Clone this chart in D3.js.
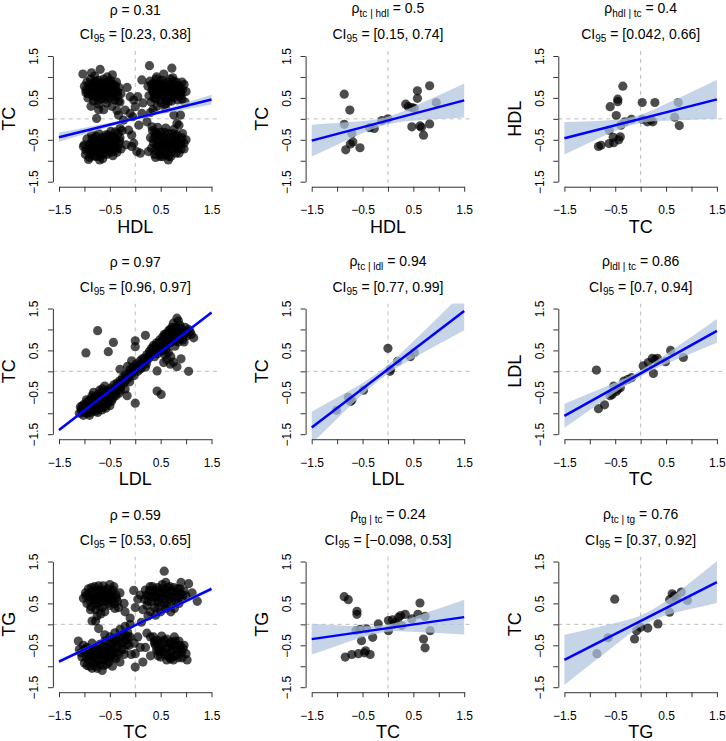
<!DOCTYPE html>
<html><head><meta charset="utf-8">
<script src="https://cdn.jsdelivr.net/npm/d3@7"></script>
<style>
body{margin:0;background:#fff}
svg{display:block}
text{font-family:"Liberation Sans",Arial,Helvetica,sans-serif}
</style>
</head><body>
<svg id="chart" width="726" height="741"></svg>
<script>
// ---------------- DATA ----------------
const tickValues = [-1.5, -1, -0.5, 0, 0.5, 1, 1.5];
const tickLabels = {"-1.5": "\u22121.5", "-0.5": "\u22120.5", "0.5": "0.5", "1.5": "1.5"};
const bandX = [-1.5, -1, -0.5, 0, 0.5, 1, 1.5];

const xLabels = ["HDL", "HDL", "TC", "LDL", "LDL", "TC", "TC", "TC", "TG"];
const yLabels = ["TC", "TC", "HDL", "TC", "TC", "LDL", "TG", "TG", "TC"];
const rhoSubs = ["", "tc | hdl", "hdl | tc", "", "tc | ldl", "ldl | tc", "", "tg | tc", "tc | tg"];
const rhoValues = ["0.31", "0.5", "0.4", "0.97", "0.94", "0.86", "0.59", "0.24", "0.76"];
const ciValues = ["[0.23, 0.38]", "[0.15, 0.74]", "[0.042, 0.66]",
                  "[0.96, 0.97]", "[0.77, 0.99]", "[0.7, 0.94]",
                  "[0.53, 0.65]", "[\u22120.098, 0.53]", "[0.37, 0.92]"];

const intercepts = [0.01, -0.04, 0.0, 0.0, 0.05, -0.047, -0.02, -0.09, 0.08];
const slopes     = [0.30, 0.32, 0.31, 0.935, 0.928, 0.676, 0.578, 0.175, 0.618];

const bandLo = [
  [-0.555, -0.37, -0.188, -0.02, 0.112, 0.23, 0.345],
  [-0.90, -0.618, -0.346, -0.131, -0.046, -0.002, 0.035],
  [-0.852, -0.564, -0.288, -0.099, -0.048, -0.023, -0.004],
  [-1.443, -0.964, -0.487, -0.015, 0.449, 0.906, 1.363],
  [-1.722, -1.129, -0.552, -0.058, 0.311, 0.65, 0.983],
  [-1.346, -0.921, -0.503, -0.122, 0.173, 0.431, 0.682],
  [-0.937, -0.6345, -0.334, -0.04, 0.244, 0.5215, 0.797],
  [-0.7185, -0.508, -0.3075, -0.174, -0.1755, -0.207, -0.2435],
  [-1.447, -0.965, -0.49, -0.051, 0.216, 0.372, 0.511]
];
const bandHi = [
  [-0.325, -0.21, -0.092, 0.04, 0.208, 0.39, 0.575],
  [-0.14, -0.102, -0.054, 0.051, 0.286, 0.562, 0.845],
  [-0.078, -0.056, -0.022, 0.099, 0.358, 0.643, 0.934],
  [-1.363, -0.906, -0.449, 0.015, 0.487, 0.964, 1.443],
  [-0.962, -0.627, -0.276, 0.158, 0.717, 1.306, 1.901],
  [-0.776, -0.525, -0.267, 0.028, 0.409, 0.827, 1.252],
  [-0.837, -0.5615, -0.284, 0.0, 0.294, 0.5945, 0.897],
  [0.0135, -0.022, -0.0475, -0.006, 0.1705, 0.377, 0.5885],
  [-0.247, -0.111, 0.032, 0.211, 0.562, 1.024, 1.503]
];

// Panel 1: TC vs HDL (marginal)
const hdlTcPoints = [
  [-1.0,0.78],[-0.97,0.62],[-0.95,0.88],[-0.93,0.5],[-0.9,0.72],[-0.88,0.95],[-0.86,0.58],[-0.84,0.82],[-0.82,0.42],[-0.8,0.68],
  [-0.78,0.9],[-0.76,0.52],[-0.74,0.75],[-0.72,0.35],[-0.7,0.62],[-0.68,0.85],[-0.66,0.48],[-0.64,0.7],[-0.62,0.95],[-0.6,0.55],
  [-0.58,0.78],[-0.56,0.38],[-0.54,0.65],[-0.52,0.88],[-0.5,0.5],[-0.48,0.72],[-0.46,0.3],[-0.44,0.6],[-0.42,0.82],[-0.4,0.45],
  [-0.38,0.68],[-0.36,0.2],[-0.34,0.55],[-0.32,0.75],[-0.3,0.4],[-0.87,0.3],[-0.62,0.22],[-0.28,0.6],[-0.8,1.02],[-0.55,1.0],
  [-0.91,0.81],[-0.87,0.66],[-0.83,0.52],[-0.79,0.78],[-0.75,0.63],[-0.71,0.92],[-0.67,0.74],[-0.63,0.58],[-0.59,0.86],[-0.55,0.71],
  [-0.51,0.6],[-0.47,0.84],[-0.43,0.52],[-0.39,0.78],[-0.35,0.64],[-0.93,0.6],[-0.81,0.87],[-0.73,0.44],[-0.65,0.82],[-0.57,0.47],
  [-0.49,0.92],[-0.41,0.62],[-0.69,0.56],[-0.61,0.67],[-0.53,0.77],[-0.77,0.68],[-0.85,0.74],[-0.45,0.7],[-0.37,0.88],[-0.33,0.42],
  [-1.03,1.07],[-0.69,1.18],[-0.86,1.1],[-0.97,0.69],[-0.76,0.01],[-0.72,0.22],[-0.33,0.09],[-0.45,1.05],
  [0.25,0.78],[0.27,0.55],[0.29,0.9],[0.31,0.4],[0.33,0.68],[0.35,0.85],[0.37,0.5],[0.39,0.75],[0.41,0.95],[0.43,0.3],
  [0.45,0.6],[0.47,0.82],[0.49,0.45],[0.51,0.7],[0.53,0.92],[0.55,0.55],[0.57,0.78],[0.59,0.35],[0.61,0.65],[0.63,0.88],
  [0.65,0.5],[0.67,0.72],[0.69,0.95],[0.71,0.42],[0.73,0.62],[0.75,0.82],[0.77,0.52],[0.79,0.7],[0.81,0.88],[0.83,0.45],
  [0.85,0.62],[0.87,0.78],[0.9,0.55],[0.93,0.7],[0.96,0.82],[1.0,0.65],[0.35,0.22],[0.6,0.25],[0.42,1.0],
  [0.32,0.82],[0.36,0.63],[0.4,0.48],[0.44,0.74],[0.48,0.9],[0.52,0.58],[0.56,0.84],[0.6,0.45],[0.64,0.68],[0.68,0.82],
  [0.72,0.56],[0.76,0.9],[0.8,0.6],[0.84,0.78],[0.88,0.68],[0.92,0.88],[0.46,0.66],[0.54,0.72],[0.62,0.78],[0.7,0.66],
  [0.78,0.76],[0.86,0.55],[0.38,0.58],[0.5,0.38],[0.66,0.42],[0.74,0.98],[0.58,0.62],[0.42,0.85],[0.9,0.62],[0.34,0.72],
  [0.28,1.27],[0.72,1.21],[0.56,1.07],[0.13,0.93],[0.92,0.47],[0.89,0.09],[0.76,0.09],[0.3,0.15],[0.98,0.4],
  [-0.16,0.75],[-0.1,0.53],[-0.03,0.45],[0.05,0.53],[0.0,0.29],[-0.2,0.21],[-0.1,0.13],[0.13,0.13],[-0.23,-0.03],[0.07,-0.15],
  [0.23,-0.07],[-0.13,-0.27],[-0.07,-0.39],[0.33,-0.19],[0.39,-0.31],[-0.03,-0.58],[0.03,-0.78],[0.1,-0.82],[0.26,-0.78],[-0.07,-0.66],
  [-0.18,-0.62],[0.15,0.38],[-0.05,0.05],
  [-1.0,-0.62],[-0.98,-0.85],[-0.95,-0.48],[-0.93,-0.72],[-0.9,-0.92],[-0.88,-0.58],[-0.86,-0.38],[-0.84,-0.8],[-0.82,-0.65],[-0.8,-0.48],
  [-0.78,-0.9],[-0.76,-0.7],[-0.74,-0.55],[-0.72,-0.35],[-0.7,-0.82],[-0.68,-0.62],[-0.66,-0.45],[-0.64,-0.95],[-0.62,-0.72],[-0.6,-0.55],
  [-0.58,-0.38],[-0.56,-0.85],[-0.54,-0.65],[-0.52,-0.48],[-0.5,-0.75],[-0.48,-0.3],[-0.46,-0.58],[-0.44,-0.88],[-0.42,-0.42],[-0.4,-0.68],
  [-0.38,-0.52],[-0.36,-0.8],[-0.34,-0.35],[-0.32,-0.6],[-0.3,-0.45],[-0.28,-0.72],[-0.26,-0.28],[-0.92,-0.97],[-1.02,-0.66],[-0.39,-0.31],
  [-0.3,-0.23],[-0.7,-0.98],
  [-0.97,-0.75],[-0.91,-0.63],[-0.87,-0.86],[-0.83,-0.55],[-0.79,-0.76],[-0.75,-0.62],[-0.71,-0.9],[-0.67,-0.72],[-0.63,-0.58],[-0.59,-0.82],
  [-0.55,-0.68],[-0.51,-0.56],[-0.47,-0.8],[-0.43,-0.62],[-0.39,-0.48],[-0.35,-0.7],[-0.31,-0.52],[-0.89,-0.72],[-0.81,-0.88],[-0.73,-0.78],
  [-0.65,-0.85],[-0.57,-0.72],[-0.49,-0.65],[-0.41,-0.76],[-0.85,-0.47],[-0.77,-0.42],[-0.69,-0.52],[-0.61,-0.45],[-0.53,-0.38],[-0.45,-0.42],
  [0.3,-0.45],[0.32,-0.7],[0.34,-0.28],[0.36,-0.58],[0.38,-0.85],[0.4,-0.4],[0.42,-0.65],[0.44,-0.2],[0.46,-0.5],[0.48,-0.78],
  [0.5,-0.32],[0.52,-0.6],[0.54,-0.9],[0.56,-0.42],[0.58,-0.7],[0.6,-0.22],[0.62,-0.52],[0.64,-0.8],[0.66,-0.35],[0.68,-0.62],
  [0.7,-0.9],[0.72,-0.45],[0.74,-0.7],[0.76,-0.25],[0.78,-0.55],[0.8,-0.82],[0.82,-0.38],[0.84,-0.62],[0.86,-0.15],[0.88,-0.48],
  [0.9,-0.72],[0.93,-0.35],[0.96,-0.58],[1.0,-0.5],[0.49,-0.9],[0.82,-0.11],[0.4,-0.92],[0.65,-0.98],
  [0.36,-0.48],[0.4,-0.75],[0.44,-0.58],[0.48,-0.4],[0.52,-0.7],[0.56,-0.55],[0.6,-0.85],[0.64,-0.62],[0.68,-0.45],[0.72,-0.78],
  [0.76,-0.6],[0.8,-0.42],[0.84,-0.72],[0.88,-0.58],[0.92,-0.45],[0.46,-0.65],[0.54,-0.48],[0.62,-0.72],[0.7,-0.55],[0.78,-0.68],
  [0.86,-0.82],[0.42,-0.35],[0.58,-0.32],[0.74,-0.35],[0.9,-0.6],[0.66,-0.9],[0.5,-0.85],[0.82,-0.52],[0.96,-0.72],[0.6,-0.6]
];
// Panel 2: TC vs HDL | partial
const hdlTcPartial = [
  [-0.86,0.59],[-0.75,0.21],[-0.86,-0.13],[-0.71,-0.35],[-0.69,-0.55],[-0.74,-0.6],[-0.83,-0.74],[-0.55,-0.69],[-0.36,-0.21],[-0.27,-0.23],
  [-0.12,-0.04],[0.0,0.0],[0.35,0.35],[0.4,0.29],[0.47,0.27],[0.52,0.25],[0.58,0.67],[0.58,0.49],[0.82,0.79],[0.95,0.39],
  [0.47,-0.19],[0.63,-0.17],[0.66,-0.2],[0.82,-0.12],[0.7,-0.39]
];
// Panel 3: HDL vs TC | partial
const tcHdlPartial = [
  [-0.35,0.78],[-0.45,0.47],[-0.45,0.41],[-0.6,0.29],[-0.48,0.08],[-0.31,-0.07],[-0.18,-0.01],[-0.39,-0.15],[-0.62,-0.27],[-0.54,-0.44],
  [-0.4,-0.43],[-0.43,-0.5],[-0.53,-0.57],[-0.62,-0.59],[-0.78,-0.63],[-0.83,-0.66],[0.03,0.39],[0.28,0.39],[0.03,-0.01],[0.13,-0.07],
  [0.24,-0.07],[0.67,0.04],[0.74,0.39],[0.76,-0.16],[0.2,-0.03]
];
// Panel 4: TC vs LDL (marginal)
const ldlTcPoints = [
  [-1.1,-1.0],[-1.08,-0.85],[-1.05,-0.95],[-1.02,-1.05],[-1.0,-0.78],[-0.98,-0.9],[-0.95,-1.0],[-0.93,-0.72],[-0.9,-0.85],[-0.88,-0.98],
  [-0.86,-0.65],[-0.84,-0.78],[-0.82,-0.92],[-0.8,-0.6],[-0.78,-0.72],[-0.76,-0.85],[-0.74,-0.98],[-0.72,-0.55],[-0.7,-0.68],[-0.68,-0.8],
  [-0.66,-0.92],[-0.64,-0.5],[-0.62,-0.62],[-0.6,-0.75],[-0.58,-0.88],[-0.56,-0.45],[-0.54,-0.58],[-0.52,-0.7],[-0.5,-0.82],[-0.48,-0.4],
  [-0.46,-0.52],[-0.44,-0.65],[-0.42,-0.32],[-0.4,-0.45],[-0.38,-0.58],[-0.36,-0.28],[-0.34,-0.4],[-0.32,-0.52],[-0.3,-0.22],[-0.28,-0.35],
  [-0.9,-1.05],[-0.7,-0.45],[-0.6,-0.35],[-0.82,-0.5],[-0.16,-0.58],
  [-1.06,-0.9],[-1.0,-0.98],[-0.96,-0.82],[-0.92,-0.94],[-0.9,-0.7],[-0.86,-0.88],[-0.83,-0.7],[-0.8,-0.82],[-0.77,-0.62],[-0.75,-0.78],
  [-0.72,-0.9],[-0.69,-0.6],[-0.67,-0.74],[-0.63,-0.86],[-0.61,-0.55],[-0.59,-0.66],[-0.55,-0.78],[-0.53,-0.5],[-0.5,-0.62],[-0.47,-0.72],
  [-0.45,-0.45],[-0.41,-0.55],[-0.37,-0.46],[-0.33,-0.3],[-0.29,-0.45],[-0.96,-0.68],[-0.85,-0.58],[-1.04,-0.82],[-0.78,-0.95],[-0.65,-0.42],
  [-0.25,-0.15],[-0.22,-0.28],[-0.2,-0.08],[-0.17,-0.2],[-0.14,-0.05],[-0.12,-0.15],[-0.1,0.05],[-0.07,-0.05],[-0.07,0.25],[-0.04,0.1],
  [-0.02,-0.1],[0.0,0.05],[0.02,0.18],[0.05,0.0],[0.07,0.12],[0.1,0.25],[0.12,0.08],[0.15,0.2],[0.18,0.32],[-0.15,0.12],
  [-0.3,0.05],[0.0,-0.76],[-0.2,-0.42],[0.2,0.1],
  [-0.26,-0.25],[-0.18,-0.12],[-0.11,-0.25],[-0.05,0.0],[0.04,0.12],[0.09,0.05],[0.14,0.3],[0.22,0.18],
  [-0.97,0.44],[-0.74,0.97],[-0.53,0.47],[-0.43,0.69],[0.0,0.73],[0.0,0.59],[0.2,0.86],[0.43,-0.47],[0.51,-0.55],[0.43,0.01],
  [0.2,0.25],[0.23,0.4],[0.26,0.3],[0.28,0.48],[0.3,0.38],[0.32,0.55],[0.34,0.45],[0.36,0.62],[0.38,0.35],[0.4,0.52],
  [0.42,0.68],[0.44,0.42],[0.46,0.58],[0.48,0.75],[0.5,0.48],[0.52,0.65],[0.54,0.82],[0.56,0.55],[0.58,0.72],[0.6,0.9],
  [0.62,0.62],[0.64,0.8],[0.66,0.98],[0.68,0.68],[0.7,0.88],[0.72,1.05],[0.74,0.75],[0.76,0.95],[0.78,0.6],[0.8,0.82],
  [0.82,1.02],[0.84,0.7],[0.86,0.9],[0.88,1.1],[0.9,0.78],[0.92,0.98],[0.95,0.85],[0.98,1.05],[1.0,0.92],[1.05,1.0],
  [1.1,0.88],[1.15,0.8],[0.85,1.2],[0.75,1.15],[0.65,0.45],[0.7,0.35],[0.58,0.4],
  [0.24,0.32],[0.3,0.45],[0.35,0.52],[0.39,0.6],[0.43,0.55],[0.47,0.68],[0.51,0.58],[0.55,0.75],[0.59,0.65],[0.63,0.88],
  [0.67,0.78],[0.71,0.7],[0.73,0.95],[0.77,0.85],[0.81,0.75],[0.83,0.92],[0.87,0.82],[0.91,0.9],[0.93,0.75],[0.97,0.95],
  [1.02,0.85],[0.69,1.0],[0.57,0.88],[0.45,0.5],[0.53,0.5],[0.61,0.52],[0.79,1.05],[0.89,1.02],[1.08,0.95],[0.96,0.7],
  [0.69,0.17],[0.82,0.11],[1.05,0.0],[0.56,0.21],[0.62,0.28],[0.75,0.22],[0.9,0.3],[0.82,1.27]
];
// Panel 5: TC vs LDL | partial
const ldlTcPartial = [
  [0.0,0.55],[0.04,0.0],[0.19,0.24],[0.44,0.35],[0.52,0.45],[-0.48,-0.45],[-0.71,-0.69],[-0.78,-0.62],[-1.01,-0.93],[0.05,0.05],[-0.74,-0.72]
];
// Panel 6: LDL vs TC | partial
const tcLdlPartial = [
  [-0.87,0.03],[-0.83,-0.89],[-0.71,-0.8],[-0.56,-0.55],[-0.6,-0.58],[-0.53,-0.35],[-0.45,-0.43],[-0.4,-0.39],[-0.33,-0.23],[-0.25,-0.19],
  [-0.18,-0.15],[0.05,0.13],[0.15,0.21],[0.23,0.31],[0.33,0.31],[0.25,-0.05],[0.49,0.23],[0.59,0.5],[0.84,0.33],[0.28,0.28],[-0.48,-0.48]
];
// Panel 7: TG vs TC (marginal)
const tcTgPoints = [
  [-1.02,0.62],[-0.98,0.75],[-0.95,0.5],[-0.92,0.85],[-0.9,0.65],[-0.87,0.42],[-0.85,0.78],[-0.82,0.58],[-0.8,0.9],[-0.78,0.35],
  [-0.76,0.7],[-0.73,0.5],[-0.7,0.82],[-0.68,0.62],[-0.65,0.4],[-0.63,0.92],[-0.6,0.72],[-0.58,0.55],[-0.55,0.85],[-0.52,0.65],
  [-0.5,0.45],[-0.47,0.78],[-0.45,0.6],[-0.42,0.9],[-0.4,0.38],[-0.38,0.7],[-0.35,0.55],[-0.6,0.3],[-0.85,0.08],[-0.78,0.08],
  [-0.72,-0.1],[-0.75,0.2],[-0.68,0.25],[-0.3,0.75],[-0.33,0.4],[-0.22,0.5],[-0.2,0.3],[-0.5,0.95],
  [-0.97,0.68],[-0.93,0.72],[-0.89,0.55],[-0.86,0.88],[-0.83,0.68],[-0.79,0.5],[-0.77,0.82],[-0.74,0.62],[-0.71,0.42],[-0.69,0.72],
  [-0.66,0.55],[-0.64,0.82],[-0.61,0.62],[-0.57,0.78],[-0.54,0.5],[-0.51,0.72],[-0.48,0.58],[-0.44,0.82],[-0.41,0.5],[-0.37,0.62],
  [-0.88,0.35],[-0.72,0.92],[-0.56,0.68],[-0.46,0.68],[-0.8,0.6],
  [-0.03,0.81],[0.0,0.4],[0.1,0.7],[0.05,0.6],[-0.1,0.15],[0.15,0.35],[0.25,0.2],[0.23,-0.21],[0.3,-0.3],[0.38,-0.45],
  [0.45,-0.65],[0.0,-1.02],[0.0,-0.7],[-0.02,-0.45],[0.1,-0.55],[0.05,-0.3],[0.2,-0.55],[0.3,-0.75],[0.15,-0.9],[-0.1,0.0],[0.12,0.05],
  [-1.1,-0.6],[-1.05,-0.78],[-1.02,-0.5],[-1.0,-0.92],[-0.97,-0.68],[-0.95,-0.55],[-0.92,-0.85],[-0.9,-1.0],[-0.88,-0.62],[-0.85,-0.45],
  [-0.83,-0.75],[-0.8,-0.9],[-0.78,-0.58],[-0.75,-1.05],[-0.73,-0.7],[-0.7,-0.48],[-0.68,-0.85],[-0.65,-0.62],[-0.62,-0.98],[-0.6,-0.4],
  [-0.58,-0.75],[-0.55,-0.55],[-0.52,-0.9],[-0.5,-0.3],[-0.48,-0.65],[-0.45,-0.48],[-0.42,-0.8],[-0.4,-0.2],[-0.38,-0.55],[-0.35,-0.38],
  [-0.32,-0.7],[-0.3,-0.12],[-0.28,-0.45],[-0.25,-0.28],[-0.22,-0.6],[-0.2,-0.05],[-0.18,-0.38],[-0.15,-0.18],[-0.12,-0.5],[-0.1,-0.3],
  [-0.65,-1.1],[-0.85,-1.05],[-0.45,-1.0],[-0.6,-0.25],[-0.3,-0.9],[-0.08,-0.72],[-1.12,-0.4],
  [-1.07,-0.68],[-1.0,-0.6],[-0.96,-0.8],[-0.93,-0.62],[-0.9,-0.75],[-0.87,-0.9],[-0.84,-0.6],[-0.81,-0.8],[-0.77,-0.68],[-0.74,-0.88],
  [-0.71,-0.6],[-0.69,-0.95],[-0.66,-0.75],[-0.63,-0.52],[-0.6,-0.85],[-0.57,-0.65],[-0.54,-0.78],[-0.51,-0.45],[-0.49,-0.8],[-0.46,-0.58],
  [-0.43,-0.7],[-0.4,-0.4],[-0.37,-0.68],[-0.34,-0.5],[-0.31,-0.3],[-0.27,-0.6],[-0.24,-0.42],[-0.2,-0.25],[-0.16,-0.48],[-0.14,-0.3],
  [-0.78,-1.0],[-0.56,-0.95],[-0.95,-0.98],[-0.7,-0.72],[-0.62,-0.68],[-0.52,-0.6],[-0.86,-0.7],[-0.38,-0.82],[-0.22,-0.72],[-0.44,-0.35],
  [0.18,0.6],[0.2,0.82],[0.23,0.45],[0.26,0.7],[0.29,0.9],[0.32,0.55],[0.35,0.78],[0.38,0.4],[0.41,0.65],[0.44,0.88],
  [0.47,0.52],[0.5,0.75],[0.53,0.95],[0.56,0.6],[0.59,0.82],[0.62,0.45],[0.65,0.7],[0.68,0.9],[0.71,0.55],[0.74,0.78],
  [0.77,0.38],[0.8,0.65],[0.83,0.85],[0.86,0.5],[0.89,0.72],[0.92,0.6],[0.96,0.8],[1.0,0.68],[0.5,0.3],[0.4,0.22],
  [0.7,0.3],[0.6,1.0],[0.3,0.3],
  [0.22,0.7],[0.25,0.55],[0.28,0.8],[0.31,0.65],[0.34,0.9],[0.37,0.68],[0.4,0.82],[0.43,0.55],[0.46,0.75],[0.49,0.62],
  [0.52,0.85],[0.55,0.7],[0.58,0.5],[0.61,0.75],[0.64,0.88],[0.67,0.6],[0.7,0.8],[0.73,0.65],[0.76,0.88],[0.79,0.55],
  [0.82,0.75],[0.85,0.65],[0.88,0.85],[0.94,0.7],[0.45,0.4],[0.6,0.38],
  [0.57,1.27],[1.05,0.97],[1.22,0.55],[1.12,0.75],[0.9,1.0],
  [0.36,-0.3],[0.4,-0.5],[0.44,-0.38],[0.48,-0.62],[0.52,-0.28],[0.55,-0.45],[0.58,-0.72],[0.62,-0.35],[0.65,-0.55],[0.68,-0.8],
  [0.71,-0.42],[0.74,-0.62],[0.77,-0.3],[0.8,-0.5],[0.83,-0.72],[0.86,-0.4],[0.89,-0.6],[0.92,-0.8],[0.96,-0.5],[1.0,-0.7],
  [0.62,-0.85],[0.75,-0.85],[1.02,-0.85],[0.45,-0.75],
  [0.38,-0.4],[0.42,-0.62],[0.46,-0.45],[0.5,-0.55],[0.54,-0.65],[0.57,-0.38],[0.6,-0.58],[0.64,-0.75],[0.67,-0.45],[0.7,-0.65],
  [0.73,-0.5],[0.76,-0.75],[0.79,-0.4],[0.82,-0.6],[0.85,-0.8],[0.88,-0.5],[0.91,-0.68],[0.94,-0.58],[0.5,-0.78],[0.7,-0.82]
];
// Panel 8: TG vs TC | partial
const tcTgPartial = [
  [-0.86,0.66],[-0.78,0.59],[-0.61,0.31],[-0.61,0.24],[-0.63,-0.15],[-0.55,-0.12],[-0.52,-0.39],[-0.42,-0.11],[-0.3,-0.31],[-0.84,-0.78],
  [-0.71,-0.72],[-0.58,-0.7],[-0.46,-0.68],[-0.44,-0.63],[-0.35,-0.72],[-0.19,0.01],[0.01,0.09],[0.09,0.11],[0.21,0.17],[0.25,0.21],
  [0.34,0.24],[0.15,0.05],[0.27,-0.03],[0.47,0.13],[0.59,0.24],[0.63,0.51],[0.7,-0.35],[0.73,-0.56],[0.83,-0.15],[0.73,0.19],
  [0.01,-0.15],[0.12,0.0]
];
// Panel 9: TC vs TG | partial
const tgTcPartial = [
  [-0.51,0.6],[-0.86,-0.7],[-0.64,-0.32],[-0.12,-0.35],[-0.08,-0.15],[0.0,-0.07],[0.14,-0.09],[0.34,0.01],[0.57,0.29],[0.62,0.73],
  [0.57,0.59],[0.71,0.61],[0.8,0.77],[0.92,0.57],[0.66,0.68]
];

const panelPoints = [hdlTcPoints, hdlTcPartial, tcHdlPartial, ldlTcPoints, ldlTcPartial, tcLdlPartial, tcTgPoints, tcTgPartial, tgTcPartial];

// ---------------- LAYOUT ----------------
const colX = [59, 311.7, 564.4];
const rowY = [56, 308.5, 561.5];
const PW = 152.5, PH = 125.7;

const svg = d3.select("#chart");
const defs = svg.append("defs");

for (let i = 0; i < 9; i++) {
  const c = i % 3, r = Math.floor(i / 3);
  const x = d3.scaleLinear().domain([-1.5, 1.5]).range([colX[c], colX[c] + PW]);
  const y = d3.scaleLinear().domain([-1.5, 1.5]).range([rowY[r] + PH, rowY[r]]);
  const x0 = x(-1.62), x1 = x(1.62), yTop = y(1.62), yBot = y(-1.62);
  const top = rowY[r] - 56;

  defs.append("clipPath").attr("id", "clip" + i)
    .append("rect").attr("x", x0).attr("y", yTop).attr("width", x1 - x0).attr("height", yBot - yTop);

  const g = svg.append("g");
  const plot = g.append("g").attr("clip-path", `url(#clip${i})`);

  // reference dashed lines
  plot.append("line").attr("x1", x(0)).attr("x2", x(0)).attr("y1", yTop).attr("y2", yBot)
    .attr("stroke", "#bdbdbd").attr("stroke-width", 1).attr("stroke-dasharray", "4,4");
  plot.append("line").attr("x1", x0).attr("x2", x1).attr("y1", y(0)).attr("y2", y(0))
    .attr("stroke", "#bdbdbd").attr("stroke-width", 1).attr("stroke-dasharray", "4,4");

  // points
  plot.append("g").selectAll("circle").data(panelPoints[i]).join("circle")
    .attr("cx", d => x(d[0])).attr("cy", d => y(d[1])).attr("r", 4.6)
    .attr("fill", "#000").attr("fill-opacity", 0.7);

  // confidence band
  const bandData = bandX.map((bx, k) => ({x: bx, lo: bandLo[i][k], hi: bandHi[i][k]}));
  const area = d3.area().x(d => x(d.x)).y0(d => y(d.lo)).y1(d => y(d.hi)).curve(d3.curveNatural);
  plot.append("path").datum(bandData).attr("d", area)
    .attr("fill", "#B0C4DE").attr("fill-opacity", 0.72);

  // regression line
  const lineData = [-1.5, 1.5].map(v => [v, intercepts[i] + slopes[i] * v]);
  plot.append("path").datum(lineData)
    .attr("d", d3.line().x(d => x(d[0])).y(d => y(d[1])))
    .attr("stroke", "#0000FF").attr("stroke-width", 2.5).attr("fill", "none");

  // axes
  const xAxis = d3.axisBottom(x).tickValues(tickValues).tickSize(5).tickSizeOuter(0)
    .tickPadding(14).tickFormat(d => tickLabels[String(d)] || "");
  const gx = g.append("g").attr("transform", `translate(0,${yBot})`).call(xAxis);
  const yAxis = d3.axisLeft(y).tickValues(tickValues).tickSize(5).tickSizeOuter(0)
    .tickFormat(d => tickLabels[String(d)] || "");
  const gy = g.append("g").attr("transform", `translate(${x0},0)`).call(yAxis);
  [gx, gy].forEach(ax => {
    ax.attr("font-family", null).attr("font-size", null);
    ax.select(".domain").attr("stroke", "#333");
    ax.selectAll(".tick line").attr("stroke", "#333");
    ax.selectAll(".tick text").attr("fill", "#000").style("font-size", "12px");
  });
  gy.selectAll(".tick text").attr("x", null).attr("dy", null)
    .attr("text-anchor", "middle").attr("transform", "translate(-14.5,0) rotate(-90)");

  // axis titles
  g.append("text").attr("x", x(0)).attr("y", yBot + 46).attr("text-anchor", "middle")
    .style("font-size", "18px").attr("fill", "#000").text(xLabels[i]);
  g.append("text").attr("transform", `translate(${x0 - 37.5},${y(0)}) rotate(-90)`)
    .attr("text-anchor", "middle").style("font-size", "18px").attr("fill", "#000").text(yLabels[i]);

  // titles
  const t1 = g.append("text").attr("x", x(0)).attr("y", top + (rhoSubs[i] ? 13 : 14.5))
    .attr("text-anchor", "middle").style("font-size", "14px").attr("fill", "#000");
  if (rhoSubs[i]) {
    t1.append("tspan").text("\u03C1");
    t1.append("tspan").attr("dy", 4).style("font-size", "10px").text(rhoSubs[i]);
    t1.append("tspan").attr("dy", -4).text(" = " + rhoValues[i]);
  } else {
    t1.text("\u03C1 = " + rhoValues[i]);
  }
  const t2 = g.append("text").attr("x", x(0)).attr("y", top + 39)
    .attr("text-anchor", "middle").style("font-size", "14px").attr("fill", "#000");
  t2.append("tspan").text("CI");
  t2.append("tspan").attr("dy", 3).style("font-size", "10px").text("95");
  t2.append("tspan").attr("dy", -3).text(" = " + ciValues[i]);
}
</script>
</body></html>
